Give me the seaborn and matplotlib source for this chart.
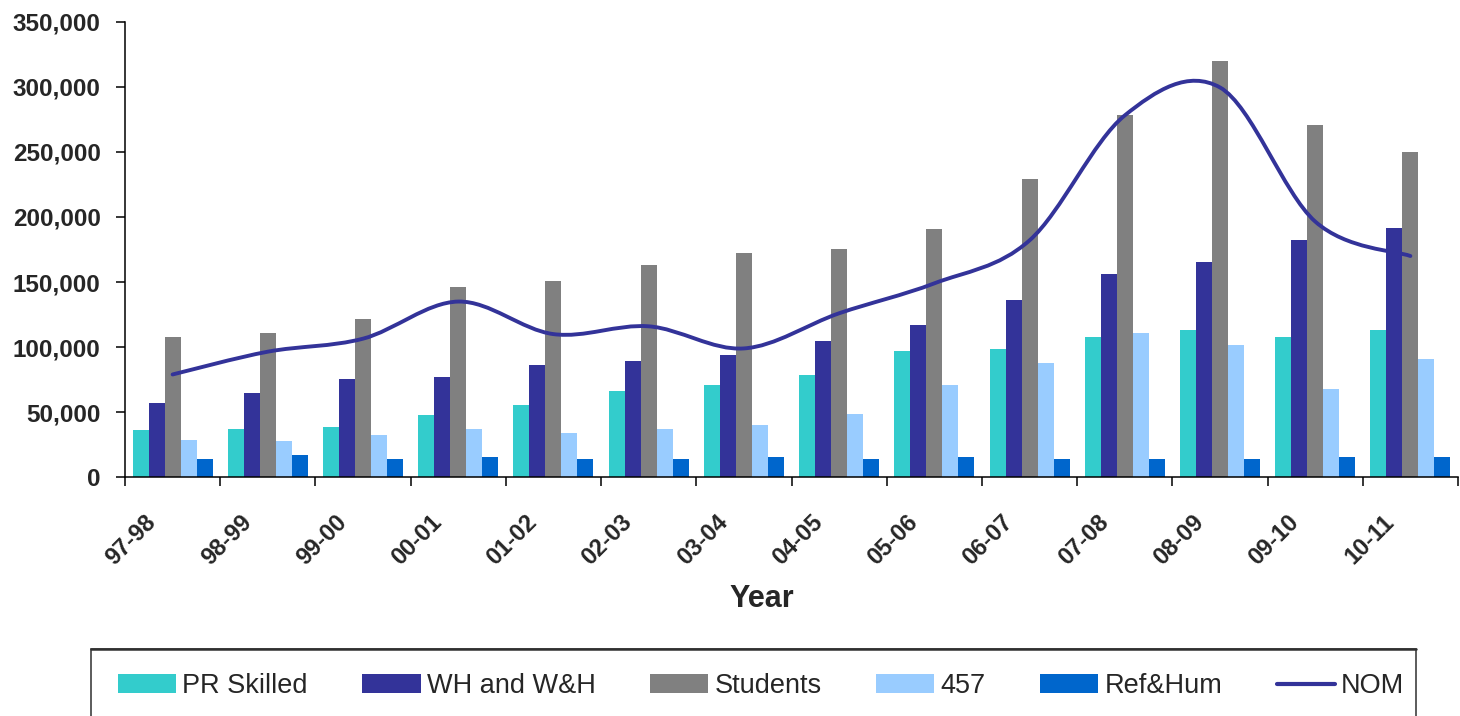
import numpy as np
import pandas as pd
import matplotlib
matplotlib.use("Agg")
import matplotlib.pyplot as plt
import seaborn as sns
from matplotlib.path import Path
from matplotlib.patches import PathPatch, Patch, Rectangle
from matplotlib.lines import Line2D
from matplotlib.transforms import ScaledTranslation

# ---------------- data ----------------
years = ["97-98", "98-99", "99-00", "00-01", "01-02", "02-03", "03-04",
         "04-05", "05-06", "06-07", "07-08", "08-09", "09-10", "10-11"]
series_names = ["PR Skilled", "WH and W&H", "Students", "457", "Ref&Hum"]
pr_skilled = [36000, 37000, 39000, 48000, 55500, 66500, 71000, 78500, 97000, 98500, 107500, 113500, 107500, 113500]
wh_wah = [57000, 64500, 75500, 77000, 86000, 89500, 94000, 104500, 117000, 136500, 156500, 165500, 182500, 191500]
students = [107500, 110500, 121500, 146000, 151000, 163000, 172000, 175500, 190500, 229000, 278000, 319500, 270500, 250000]
v457 = [29000, 28000, 32500, 37000, 34000, 37000, 40000, 49000, 71000, 87500, 110500, 101500, 67500, 90500]
ref_hum = [14000, 17000, 14000, 15500, 14000, 14000, 15500, 14000, 15500, 14000, 14000, 14000, 15500, 15500]
nom = [79000, 96500, 106500, 135000, 110000, 116000, 99000, 126000, 149000, 182000, 278000, 299500, 196500, 170000]
y_ticks = [0, 50000, 100000, 150000, 200000, 250000, 300000, 350000]
y_tick_labels = ["0", "50,000", "100,000", "150,000", "200,000", "250,000", "300,000", "350,000"]

colors = ["#33CCCC", "#333399", "#808080", "#99CCFF", "#0066CC"]
nom_color = "#333399"

wide = pd.DataFrame({"Year": years, "PR Skilled": pr_skilled, "WH and W&H": wh_wah,
                     "Students": students, "457": v457, "Ref&Hum": ref_hum})
df = wide.melt(id_vars="Year", var_name="Series", value_name="Value")

# ---------------- style ----------------
sns.set_theme(style="ticks")
plt.rcParams["font.family"] = ["Liberation Sans", "DejaVu Sans"]

W, H = 1460, 716
fig = plt.figure(figsize=(W / 100, H / 100), dpi=100)
ax_left, ax_right, ax_top, ax_bottom = 125, 1458, 21.7, 477.3
ax = fig.add_axes([ax_left / W, 1 - ax_bottom / H, (ax_right - ax_left) / W, (ax_bottom - ax_top) / H])

sns.barplot(data=df, x="Year", y="Value", hue="Series", hue_order=series_names,
            order=years, palette=colors, saturation=1, width=0.84, linewidth=0,
            ax=ax, legend=False, errorbar=None)

# smoothed NOM line (cubic Bezier through the data points, Excel-style smoothing)
xs = np.arange(len(nom), dtype=float)
ys = np.array(nom, dtype=float)
pts = np.column_stack([xs, ys])
ext = np.vstack([pts[0], pts, pts[-1]])
verts = [tuple(pts[0])]
codes = [Path.MOVETO]
for i in range(len(pts) - 1):
    p0, p1, p2, p3 = ext[i], ext[i + 1], ext[i + 2], ext[i + 3]
    c1 = p1 + (p2 - p0) / 6.0
    c2 = p2 - (p3 - p1) / 6.0
    verts += [tuple(c1), tuple(c2), tuple(p2)]
    codes += [Path.CURVE4] * 3
ax.add_patch(PathPatch(Path(verts, codes), fill=False, edgecolor=nom_color,
                       linewidth=2.8, capstyle="round", joinstyle="round", zorder=5))

# ---------------- axes ----------------
ax.set_xlim(-0.5, len(years) - 0.5)
ax.set_ylim(0, 350000)
ax.set_xlabel("")
ax.set_ylabel("")
sns.despine(ax=ax)
for s in ["left", "bottom"]:
    ax.spines[s].set_linewidth(1.1)
    ax.spines[s].set_color("black")

ax.set_xticks(np.arange(-0.5, len(years), 1.0))
ax.set_xticklabels([])
ax.set_xticks(np.arange(len(years)), minor=True)
ax.set_xticklabels(years, minor=True, rotation=45, ha="right", va="center",
                   rotation_mode="anchor", fontsize=17, fontweight="bold")
ax.tick_params(axis="x", which="major", length=6.5, width=1.1, direction="out", color="black")
ax.tick_params(axis="x", which="minor", length=0, pad=29.5)
offset = ScaledTranslation(-20 / 100, 0, fig.dpi_scale_trans)
for lab in ax.get_xticklabels(minor=True):
    lab.set_transform(lab.get_transform() + offset)

ax.set_yticks(y_ticks)
ax.set_yticklabels(y_tick_labels, fontsize=17.5, fontweight="bold")
ax.tick_params(axis="y", length=6.5, width=1.1, direction="out", pad=11, color="black")

fig.text(761.5 / W, 1 - 606.7 / H, "Year", ha="center", va="baseline",
         fontsize=22, fontweight="bold")

# ---------------- legend ----------------
handles = [Patch(facecolor=c, edgecolor="none") for c in colors]
handles.append(Line2D([0], [0], color=nom_color, lw=3.0))
labels = series_names + ["NOM"]
fig.legend(handles, labels, loc="center left", bbox_to_anchor=(118 / W, 1 - 686 / H),
           ncol=6, frameon=False, fontsize=19.5, handlelength=2.15, handleheight=0.68,
           handletextpad=0.22, columnspacing=2.02, borderpad=0, borderaxespad=0)
fig.add_artist(Rectangle((91 / W, -0.05), (1416 - 91) / W, (H - 649) / H + 0.05,
                         transform=fig.transFigure, fill=False, edgecolor="#404040", lw=1.2))
fig.add_artist(Line2D([91 / W, 1416 / W], [1 - 649 / H] * 2, transform=fig.transFigure,
                      color="#303030", lw=1.8))

fig.savefig("out.png", dpi=100)
